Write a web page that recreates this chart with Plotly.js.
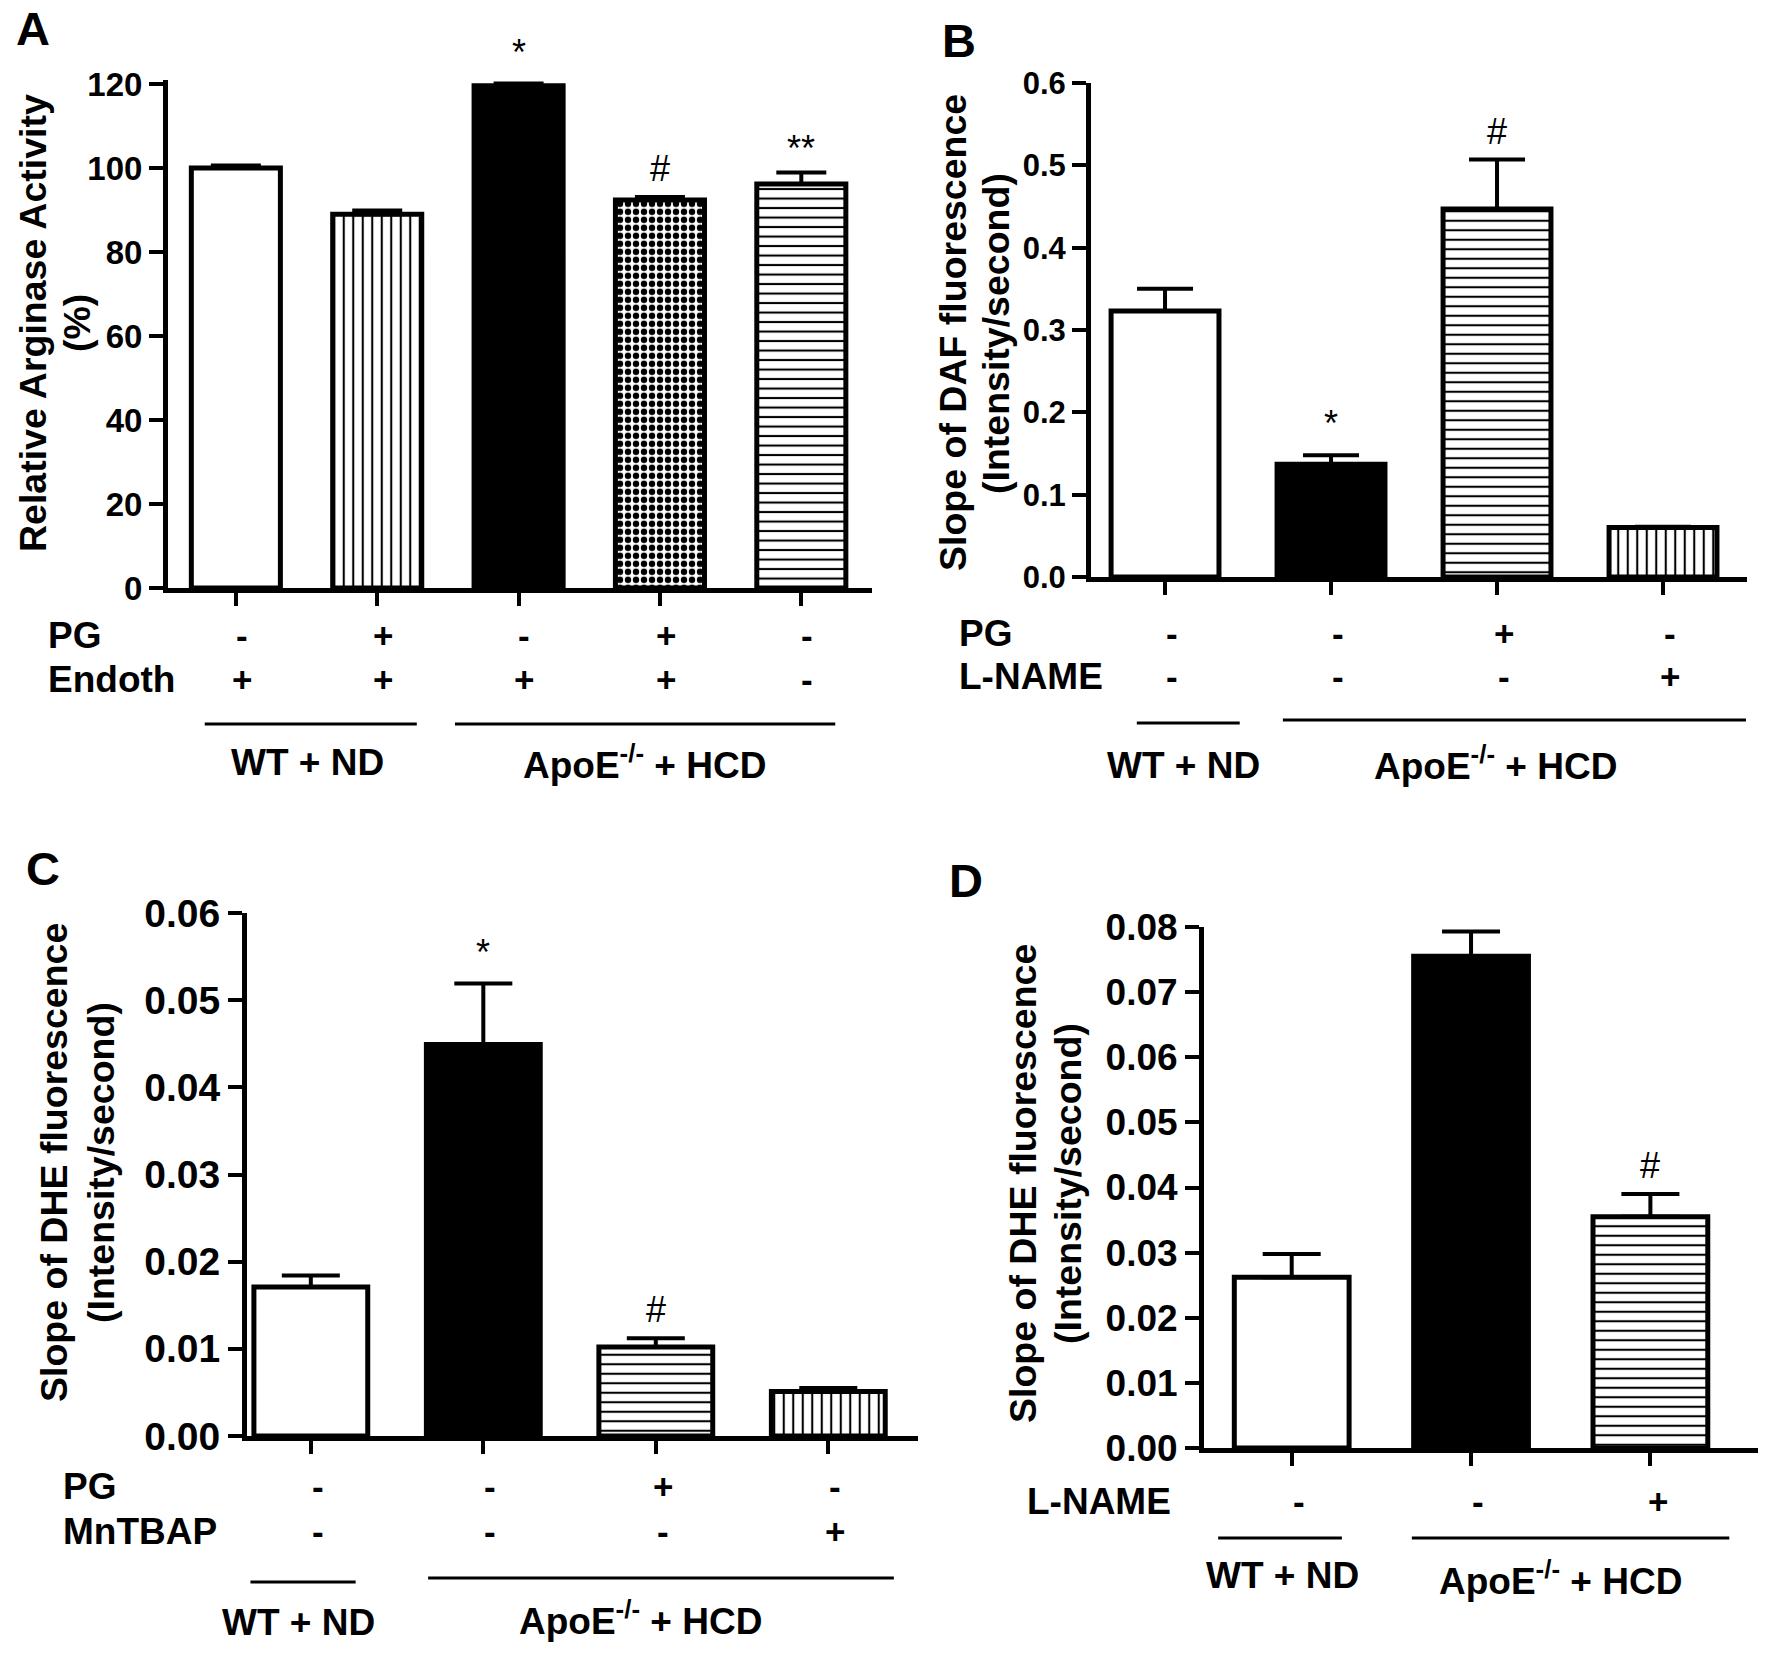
<!DOCTYPE html>
<html>
<head>
<meta charset="utf-8">
<script src="https://cdn.plot.ly/plotly-3.0.1.min.js"></script>
<style>
  html, body { margin: 0; padding: 0; background: #fff; }
  #plotArea { width: 1772px; height: 1655px; }
</style>
</head>
<body>
<div id="plotArea"></div>
<script>
// ---- data ----

// A: relative arginase activity (%)
var barsA = ["WT+ND", "WT+ND +PG", "ApoE+HCD", "ApoE+HCD +PG", "ApoE+HCD -Endoth"];
var valuesA = [100, 89, 119.6, 92.4, 96.2];
var errA = [0.6, 0.9, 0.5, 0.7, 2.7];
var sigA = ["", "", "*", "#", "**"];
var pgA = ["-", "+", "-", "+", "-"];
var endothA = ["+", "+", "+", "+", "-"];

// B: slope of DAF fluorescence
var barsB = ["WT+ND", "ApoE+HCD", "ApoE+HCD +PG", "ApoE+HCD +L-NAME"];
var valuesB = [0.323, 0.137, 0.447, 0.060];
var errB = [0.027, 0.011, 0.060, 0.001];
var sigB = ["", "*", "#", ""];
var pgB = ["-", "-", "+", "-"];
var lnameB = ["-", "-", "-", "+"];

// C: slope of DHE fluorescence (PG / MnTBAP)
var barsC = ["WT+ND", "ApoE+HCD", "ApoE+HCD +PG", "ApoE+HCD +MnTBAP"];
var valuesC = [0.0171, 0.0449, 0.0102, 0.0051];
var errC = [0.0013, 0.0070, 0.0010, 0.0004];
var sigC = ["", "*", "#", ""];
var pgC = ["-", "-", "+", "-"];
var mntbapC = ["-", "-", "-", "+"];

// D: slope of DHE fluorescence (L-NAME)
var barsD = ["WT+ND", "ApoE+HCD", "ApoE+HCD +L-NAME"];
var valuesD = [0.0262, 0.0755, 0.0355];
var errD = [0.0036, 0.0038, 0.0035];
var sigD = ["", "", "#"];
var lnameD = ["-", "-", "+"];

// ---- page geometry ----
var W = 1772, H = 1655;
function px(x) { return x / W; }
function py(y) { return 1 - y / H; }

var FONT = "Liberation Sans, Arial, Helvetica, sans-serif";
var apoLabel = "ApoE<sup>-/-</sup> + HCD";

// fill styles: open, solid, vertical lines, horizontal lines, checker
var FILLS = {
  open:  {color: "white", shape: ""},
  solid: {color: "black", shape: ""},
  vert:  {color: "white", shape: "|", size: 9.5, solidity: 0.22},
  horiz: {color: "white", shape: "-", size: 9.5, solidity: 0.22},
  check: {color: "white", shape: ".", size: 8, solidity: 0.5}
};

var panels = [
  {
    letter: "A", letterPos: [33, 0], letterTop: true,
    names: barsA, values: valuesA, err: errA, sig: sigA,
    rows: [["PG", pgA, 635], ["Endoth", endothA, 679]], rowLabelX: 46,
    box: {left: 168, right: 872, top: 79.8, bottom: 588}, xr: [-0.48, 4.5],
    yr: [0, 121], dtick: 20, fmt: "d", tickSize: 33,
    barWidth: 0.63, capWidth: 25,
    fills: ["open", "vert", "solid", "check", "horiz"],
    title: ["Relative Arginase Activity", "(%)"], titleX: [33, 77], titleY: 323,
    groups: [["WT + ND", -0.22, 1.28, 724, 0.51, 762], [apoLabel, 1.55, 4.24, 724, 2.89, 762]]
  },
  {
    letter: "B", letterPos: [959, 41],
    names: barsB, values: valuesB, err: errB, sig: sigB,
    rows: [["PG", pgB, 633], ["L-NAME", lnameB, 676]], rowLabelX: 957,
    box: {left: 1091, right: 1747, top: 83, bottom: 577}, xr: [-0.446, 3.506],
    yr: [0, 0.6], dtick: 0.1, fmt: ".1f", tickSize: 31,
    barWidth: 0.65, capWidth: 28,
    fills: ["open", "solid", "horiz", "vert"],
    title: ["Slope of DAF fluorescence", "(Intensity/second)"], titleX: [953, 996], titleY: 333,
    groups: [["WT + ND", -0.17, 0.45, 723, 0.11, 765], [apoLabel, 0.71, 3.5, 720, 1.99, 763]]
  },
  {
    letter: "C", letterPos: [43, 868],
    names: barsC, values: valuesC, err: errC, sig: sigC,
    rows: [["PG", pgC, 1486], ["MnTBAP", mntbapC, 1531]], rowLabelX: 61,
    box: {left: 247, right: 918, top: 913, bottom: 1436}, xr: [-0.37, 3.52],
    yr: [0, 0.06], dtick: 0.01, fmt: ".2f", tickSize: 39,
    barWidth: 0.66, capWidth: 29,
    fills: ["open", "solid", "horiz", "vert"],
    title: ["Slope of DHE fluorescence", "(Intensity/second)"], titleX: [54, 101], titleY: 1163,
    groups: [["WT + ND", -0.35, 0.26, 1582, -0.07, 1622], [apoLabel, 0.68, 3.38, 1578, 1.91, 1618]]
  },
  {
    letter: "D", letterPos: [966, 880],
    names: barsD, values: valuesD, err: errD, sig: sigD,
    rows: [["L-NAME", lnameD, 1501]], rowLabelX: 1025,
    box: {left: 1204, right: 1758, top: 927, bottom: 1448}, xr: [-0.489, 2.6],
    yr: [0, 0.08], dtick: 0.01, fmt: ".2f", tickSize: 37,
    barWidth: 0.64, capWidth: 29,
    fills: ["open", "solid", "horiz"],
    title: ["Slope of DHE fluorescence", "(Intensity/second)"], titleX: [1023, 1068], titleY: 1184,
    groups: [["WT + ND", -0.41, 0.28, 1538, -0.05, 1575], [apoLabel, 0.67, 2.44, 1538, 1.5, 1578]]
  }
];

var traces = [];
var layout = {
  width: W, height: H,
  margin: {l: 0, r: 0, t: 0, b: 0},
  paper_bgcolor: "white", plot_bgcolor: "white",
  showlegend: false, barmode: "overlay",
  font: {family: FONT, color: "black"},
  annotations: [],
  shapes: []
};

function bold(size) { return {family: FONT, size: size, color: "black", weight: "bold"}; }

// vertical nudge for significance symbols (the asterisk sits high in its box)
var SIG_SHIFT = {"*": 9, "**": 2, "#": 6};

panels.forEach(function(p, i) {
  var n = i === 0 ? "" : String(i + 1);
  var xa = "x" + n, ya = "y" + n;
  var idx = p.values.map(function(v, k) { return k; });

  // one trace per bar so every bar gets its own fill pattern
  p.values.forEach(function(v, k) {
    var f = FILLS[p.fills[k]];
    var marker = {color: f.color, line: {color: "black", width: 5}};
    if (f.shape) {
      marker.pattern = {shape: f.shape, size: f.size, solidity: f.solidity,
                        fgcolor: "black", bgcolor: "white", fillmode: "replace"};
    }
    traces.push({
      type: "bar", name: p.names[k],
      x: [k], y: [v],
      xaxis: xa, yaxis: ya,
      width: p.barWidth,
      marker: marker,
      error_y: {type: "data", symmetric: false, array: [p.err[k]], arrayminus: [0],
                color: "black", thickness: 4, width: p.capWidth}
    });
  });

  layout["xaxis" + n] = {
    domain: [px(p.box.left), px(p.box.right)], anchor: ya,
    range: p.xr, showgrid: false, zeroline: false,
    showline: true, linecolor: "black", linewidth: 5,
    ticks: "outside", ticklen: 13, tickwidth: 4, tickcolor: "black",
    tickvals: idx, showticklabels: false, fixedrange: true
  };
  layout["yaxis" + n] = {
    domain: [py(p.box.bottom), py(p.box.top)], anchor: xa,
    range: p.yr, dtick: p.dtick, tick0: 0, tickformat: p.fmt,
    showgrid: false, zeroline: false,
    showline: true, linecolor: "black", linewidth: 5,
    ticks: "outside", ticklen: 14, tickwidth: 4, tickcolor: "black",
    tickfont: bold(p.tickSize), fixedrange: true
  };

  // panel letter
  layout.annotations.push({text: p.letter, xref: "paper", yref: "paper", x: px(p.letterPos[0]), y: py(p.letterPos[1]),
    xanchor: "center", yanchor: p.letterTop ? "top" : "middle", showarrow: false, font: bold(47)});

  // rotated y title, two lines
  p.title.forEach(function(t, k) {
    layout.annotations.push({text: t, xref: "paper", yref: "paper", x: px(p.titleX[k]), y: py(p.titleY),
      xanchor: "center", yanchor: "middle", textangle: -90, showarrow: false, font: bold(37.5)});
  });

  // significance marks above error bars
  p.sig.forEach(function(s, k) {
    if (!s) return;
    layout.annotations.push({text: s, xref: xa, yref: ya, x: k, y: p.values[k] + p.err[k],
      xanchor: "center", yanchor: "bottom", yshift: SIG_SHIFT[s], showarrow: false,
      font: {family: FONT, size: 36, color: "black"}});
  });

  // treatment rows under the axis
  p.rows.forEach(function(r) {
    layout.annotations.push({text: r[0], xref: "paper", yref: "paper", x: px(p.rowLabelX), y: py(r[2]),
      xanchor: "left", yanchor: "middle", showarrow: false, font: bold(37)});
    r[1].forEach(function(sym, k) {
      layout.annotations.push({text: sym, xref: xa, yref: "paper", x: k + 0.04, y: py(r[2]),
        xanchor: "center", yanchor: "middle", showarrow: false, font: bold(35)});
    });
  });

  // group brackets
  p.groups.forEach(function(g) {
    layout.shapes.push({type: "line", xref: xa, yref: "paper", x0: g[1], x1: g[2], y0: py(g[3]), y1: py(g[3]),
      line: {color: "black", width: 3}});
    layout.annotations.push({text: g[0], xref: xa, yref: "paper", x: g[4], y: py(g[5]),
      xanchor: "center", yanchor: "middle", showarrow: false, font: bold(37)});
  });
});

Plotly.newPlot("plotArea", traces, layout, {staticPlot: true});
</script>
</body>
</html>
